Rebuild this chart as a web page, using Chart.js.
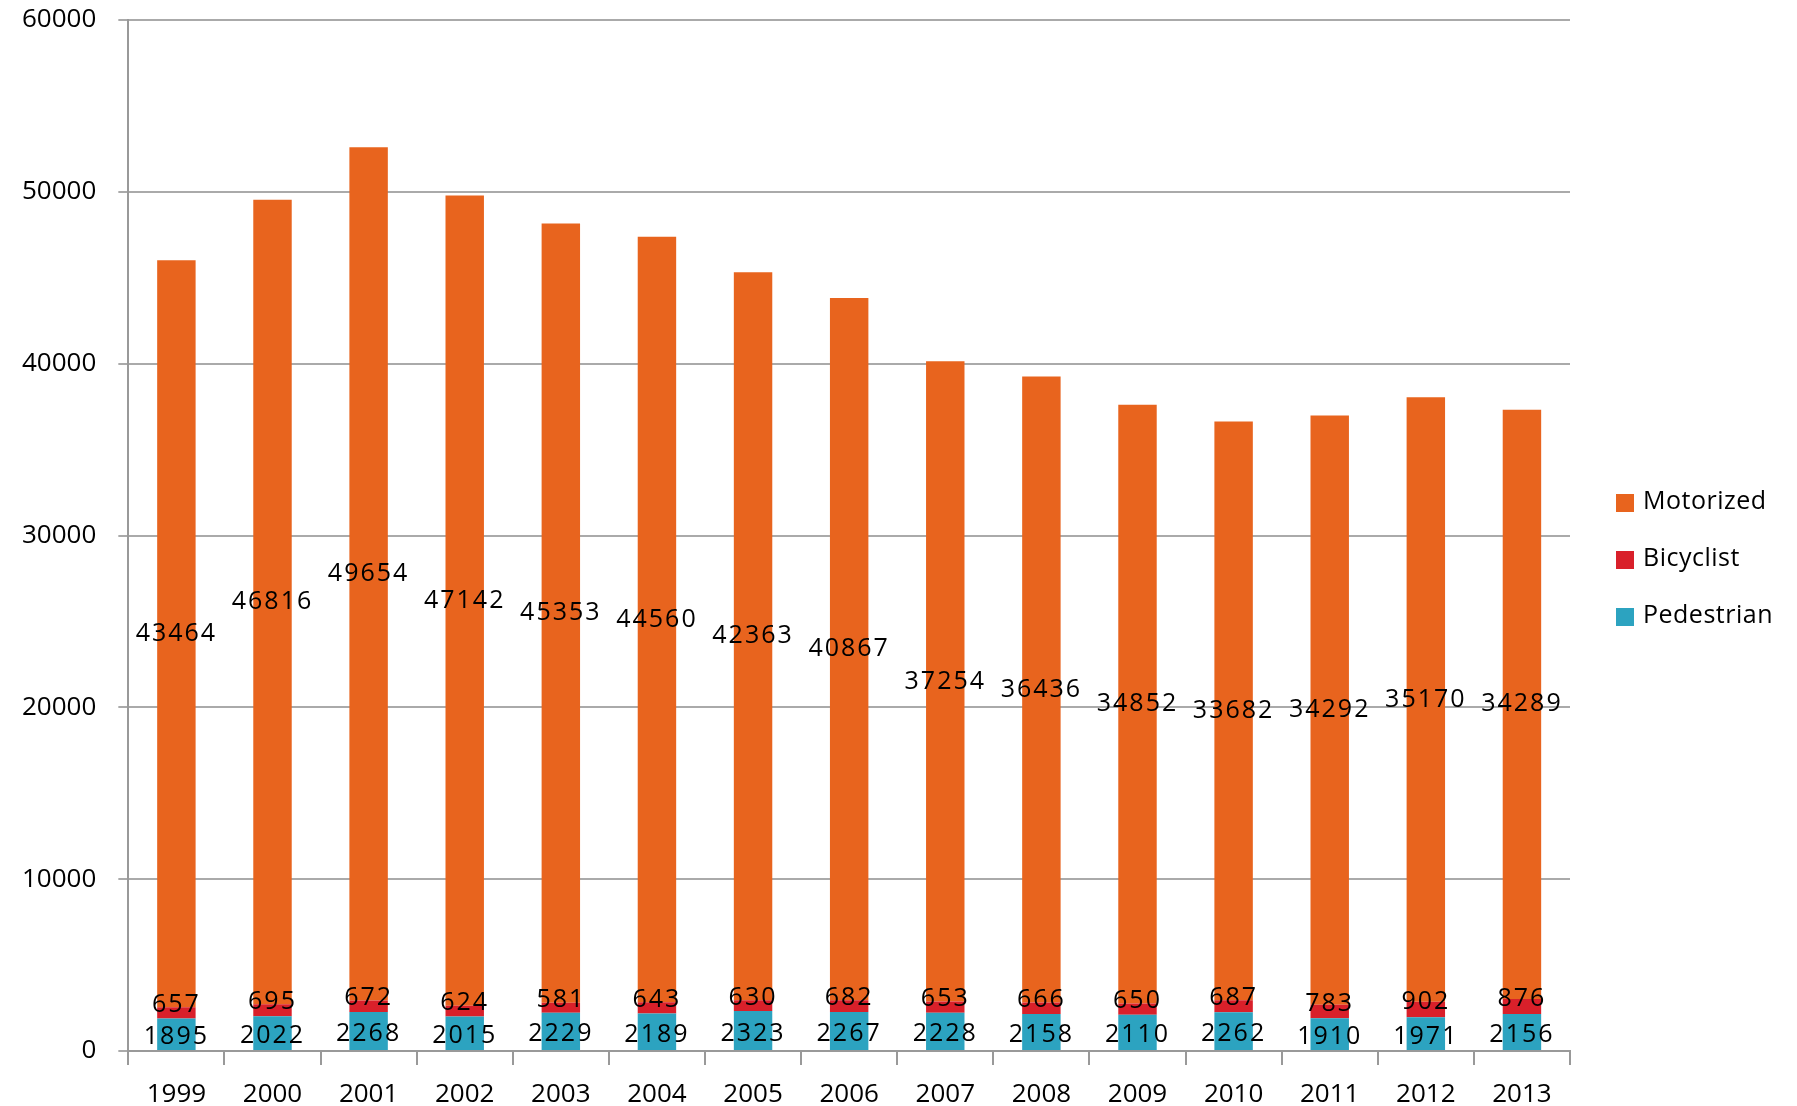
<!DOCTYPE html>
<html><head><meta charset="utf-8">
<script src="https://cdn.jsdelivr.net/npm/chart.js@4/dist/chart.umd.min.js"></script>
<style>html,body{margin:0;background:#fff}#w{width:1797px;height:1106px}</style>
</head><body><div id="w"><canvas id="c"></canvas></div>
<script>
const years=['1999','2000','2001','2002','2003','2004','2005','2006','2007','2008','2009','2010','2011','2012','2013'];
const pedestrian=[1895,2022,2268,2015,2229,2189,2323,2267,2228,2158,2110,2262,1910,1971,2156];
const bicyclist=[657,695,672,624,581,643,630,682,653,666,650,687,783,902,876];
const motorized=[43464,46816,49654,47142,45353,44560,42363,40867,37254,36436,34852,33682,34292,35170,34289];
const yTicks=[0,10000,20000,30000,40000,50000,60000];
const FONT='"Open Sans", "DejaVu Sans", sans-serif';
const labelPlugin={id:'lbl',afterDatasetsDraw(ch){
  const ctx=ch.ctx;ctx.save();ctx.fillStyle='#000';ctx.font='25px '+FONT;ctx.textAlign='center';ctx.textBaseline='middle';
  if(ctx.letterSpacing!==undefined) ctx.letterSpacing='2px';
  ch.data.datasets.forEach((ds,i)=>{ch.getDatasetMeta(i).data.forEach((el,j)=>{
    const y=(el.y+el.base)/2;ctx.fillText(String(ds.data[j]),el.x,i==1?y-8:(i==0?y+3:y));});});
  const items=[['Motorized','#E8641E'],['Bicyclist','#D9202A'],['Pedestrian','#2CA3C0']];
  ctx.textAlign='left';ctx.letterSpacing='0.5px';
  items.forEach((it,k)=>{const y=502+k*57;ctx.fillStyle=it[1];ctx.fillRect(1616,y-8,18,18);ctx.fillStyle='#000';ctx.fillText(it[0],1643,y);});
  ctx.restore();}};
new Chart(document.getElementById('c'),{type:'bar',
 data:{labels:years,datasets:[
  {label:'Pedestrian',data:pedestrian,backgroundColor:'#2CA3C0'},
  {label:'Bicyclist',data:bicyclist,backgroundColor:'#D9202A'},
  {label:'Motorized',data:motorized,backgroundColor:'#E8641E'}]},
 options:{responsive:true,maintainAspectRatio:false,animation:false,
  layout:{padding:{left:0,right:227,top:20,bottom:0}},
  datasets:{bar:{categoryPercentage:0.4,barPercentage:1}},
  plugins:{legend:{display:false},tooltip:{enabled:false}},
  scales:{
   x:{stacked:true,afterFit(s){s.height=55;},grid:{offset:true,color:'#999',lineWidth:2,drawOnChartArea:false,tickLength:14},border:{color:'#999',width:2},
      ticks:{color:'#000',font:{size:26,family:FONT},padding:14}},
   y:{stacked:true,min:0,max:60000,afterBuildTicks(s){s.ticks=yTicks.map(v=>({value:v}));},
      afterFit(s){s.paddingTop=0;s.paddingBottom=0;},
      grid:{color:'#aaa',lineWidth:2,tickLength:10},border:{color:'#999',width:2},
      ticks:{color:'#000',font:{size:26,family:FONT},padding:22,callback:v=>String(v)}}}}
 ,plugins:[labelPlugin]});
</script></body></html>
